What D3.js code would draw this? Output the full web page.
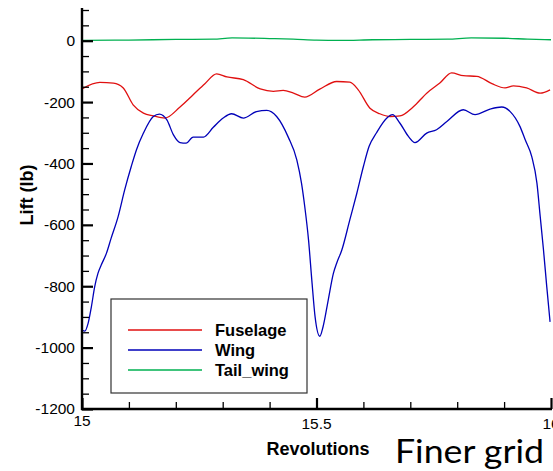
<!DOCTYPE html>
<html><head><meta charset="utf-8">
<script src="https://cdn.jsdelivr.net/npm/d3@7"></script>
<style>body{margin:0;background:#fff}svg{display:block}</style>
</head><body>
<script>
// Data (revolution, lift lb)
const fuselageRev = [15.000,15.038,15.067,15.088,15.109,15.131,15.152,15.177,15.209,15.237,15.262,15.287,15.309,15.344,15.380,15.408,15.429,15.451,15.475,15.507,15.543,15.571,15.589,15.614,15.635,15.657,15.678,15.706,15.735,15.763,15.788,15.813,15.842,15.874,15.902,15.920,15.948,15.977,15.998];
const fuselageLift = [-157,-136,-138,-154,-209,-236,-245,-252,-216,-176,-140,-108,-118,-127,-157,-165,-162,-171,-184,-158,-133,-135,-160,-220,-238,-247,-245,-216,-171,-138,-105,-114,-116,-140,-154,-147,-154,-171,-160];
const wingRev = [15.000,15.006,15.013,15.020,15.027,15.034,15.041,15.052,15.062,15.077,15.091,15.105,15.116,15.131,15.152,15.165,15.181,15.195,15.209,15.222,15.237,15.259,15.280,15.301,15.319,15.344,15.372,15.394,15.415,15.440,15.458,15.468,15.475,15.483,15.490,15.497,15.507,15.514,15.525,15.536,15.543,15.554,15.571,15.586,15.600,15.612,15.628,15.650,15.662,15.678,15.696,15.710,15.735,15.756,15.778,15.813,15.838,15.870,15.895,15.913,15.934,15.945,15.959,15.970,15.977,15.984,15.991,15.998];
const wingLift = [-943,-946,-921,-867,-802,-758,-731,-693,-644,-573,-486,-410,-356,-301,-247,-239,-258,-307,-332,-334,-314,-314,-282,-252,-238,-252,-231,-227,-247,-315,-388,-464,-541,-649,-780,-900,-963,-932,-845,-758,-725,-682,-584,-497,-410,-345,-300,-252,-241,-269,-312,-332,-301,-290,-263,-225,-241,-223,-216,-231,-280,-323,-378,-464,-573,-682,-802,-916];
const tailRev = [15.00,15.10,15.20,15.28,15.32,15.40,15.45,15.50,15.55,15.62,15.70,15.78,15.83,15.90,15.95,16.00];
const tailLift = [1,2,4,5,9,7,5,2,1,3,4,5,9,8,5,3];
const seriesNames = ["Fuselage","Wing","Tail_wing"];
const seriesColors = ["#e01010","#0000b8","#00b050"];
const yMajorTicks = [0,-200,-400,-600,-800,-1000,-1200];
const xMajorTicks = [15,15.5,16];
const xTickLabels = ["15","15.5","16"];

const W=553,H=471;
const svg=d3.select("body").append("svg").attr("width",W).attr("height",H)
  .style("font-family","'Liberation Sans',Arial,sans-serif");
const x=d3.scaleLinear().domain([15,16]).range([82,551]);
const y=d3.scaleLinear().domain([-1200,100]).range([409,10]);

svg.append("clipPath").attr("id","c").append("rect")
  .attr("x",82).attr("y",0).attr("width",W-82).attr("height",409);

const series=[
  fuselageRev.map((r,i)=>[r,fuselageLift[i]]),
  wingRev.map((r,i)=>[r,wingLift[i]]),
  tailRev.map((r,i)=>[r,tailLift[i]])
];
const line=d3.line().x(d=>x(d[0])).y(d=>y(d[1])).curve(d3.curveMonotoneX);
const g=svg.append("g").attr("clip-path","url(#c)");
[2,0,1].forEach(i=>{
  g.append("path").datum(series[i]).attr("d",line).attr("fill","none")
   .attr("stroke",seriesColors[i]).attr("stroke-width",1.3);
});

// Axes
const yMinor=d3.range(-1200,101,50).filter(v=>v%200!==0);
const xMinor=d3.range(15,16.001,0.1).filter(v=>Math.abs(v*2-Math.round(v*2))>1e-6);
const yAxisMajor=d3.axisRight(y).tickValues(yMajorTicks).tickSize(11).tickFormat("");
const yAxisMinor=d3.axisRight(y).tickValues(yMinor).tickSize(7).tickFormat("");
const ya1=svg.append("g").attr("transform","translate(82,0)").call(yAxisMinor);
const ya2=svg.append("g").attr("transform","translate(82,0)").call(yAxisMajor);
ya1.selectAll("line").attr("stroke","#000").attr("stroke-width",1.3);
ya2.selectAll("line").attr("stroke","#000").attr("stroke-width",2.2);
[ya1,ya2].forEach(a=>a.select(".domain").remove());
const xAxisMajor=d3.axisTop(x).tickValues(xMajorTicks).tickSize(11).tickFormat("");
const xAxisMinor=d3.axisTop(x).tickValues(xMinor).tickSize(7).tickFormat("");
const xa1=svg.append("g").attr("transform","translate(0,409)").call(xAxisMinor);
const xa2=svg.append("g").attr("transform","translate(0,409)").call(xAxisMajor);
xa1.selectAll("line").attr("stroke","#000").attr("stroke-width",1.3);
xa2.selectAll("line").attr("stroke","#000").attr("stroke-width",2.2);
[xa1,xa2].forEach(a=>a.select(".domain").remove());
svg.append("line").attr("x1",82).attr("x2",82).attr("y1",8).attr("y2",410)
  .attr("stroke","#000").attr("stroke-width",2.4);
svg.append("line").attr("x1",81).attr("x2",552).attr("y1",409).attr("y2",409)
  .attr("stroke","#000").attr("stroke-width",2.4);

// Tick labels
svg.append("g").selectAll("text").data(yMajorTicks).join("text")
  .attr("x",75).attr("y",d=>y(d)).attr("dy","0.35em").attr("text-anchor","end")
  .attr("font-size",15.5).attr("fill","#000").text(d=>d);
svg.append("g").selectAll("text").data(xMajorTicks).join("text")
  .attr("x",d=>x(d)).attr("y",(d,i)=>i===0?426:429).attr("text-anchor","middle")
  .attr("font-size",15.5).attr("fill","#000").text((d,i)=>xTickLabels[i]);

// Axis titles
svg.append("text").attr("x",318).attr("y",455).attr("text-anchor","middle")
  .attr("font-size",18).attr("font-weight","bold").text("Revolutions");
svg.append("text").attr("transform","translate(33,195) rotate(-90)")
  .attr("text-anchor","middle").attr("font-size",18).attr("font-weight","bold").text("Lift (lb)");

// Legend
svg.append("rect").attr("x",111).attr("y",299).attr("width",196).attr("height",94)
  .attr("fill","#fff").attr("stroke","#333").attr("stroke-width",1.2);
seriesNames.forEach((n,i)=>{
  const yy=330+i*20;
  svg.append("line").attr("x1",128).attr("x2",202).attr("y1",yy).attr("y2",yy)
    .attr("stroke",seriesColors[i]).attr("stroke-width",1.3);
  svg.append("text").attr("x",215).attr("y",yy).attr("dy","0.36em")
    .attr("font-size",16.5).attr("font-weight","bold").text(n);
});

// Annotation
svg.append("text").attr("x",395).attr("y",463).attr("font-family","Lato,'Open Sans',sans-serif")
  .attr("font-size",33).attr("fill","#000")
  .attr("textLength",149).attr("lengthAdjust","spacingAndGlyphs").text("Finer grid");
</script>
</body></html>
